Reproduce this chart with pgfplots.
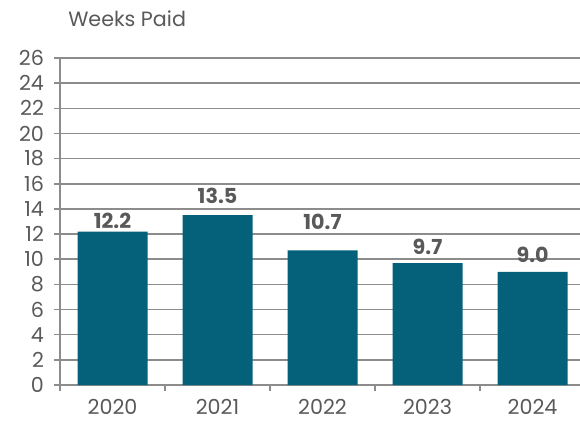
\documentclass[border=0pt]{standalone}
\usepackage{pgfplots}
\usepackage{pgfplotstable}
\pgfplotsset{compat=1.18}
\usepackage{fontspec}
\setmainfont{Poppins}
\definecolor{barc}{HTML}{05617A}
\definecolor{txt}{HTML}{595959}
\definecolor{grd}{HTML}{8C8C8C}
\newcommand{\lf}{\fontsize{15.5}{18}\selectfont}
\pgfplotstableread{
x y lab off
0 12.2 12.2 2.25
1 13.5 13.5 8.25
2 10.7 10.7 15
3 9.7 9.7 6
4 9.0 9.0 6.75
}\datatab
\begin{document}
\begin{tikzpicture}
\begin{axis}[at={(0,0)}, anchor=south west, scale only axis,
  width=390pt, height=245.25pt,
  xmin=-0.5, xmax=4.452, ymin=0, ymax=26,
  ytick={0,2,...,26},
  xtick={0,1,2,3,4}, xticklabels={2020,2021,2022,2023,2024},
  minor xtick={-0.5,0.5,1.5,2.5,3.5},
  axis lines*=left,
  axis line style={grd, line width=1.1pt},
  ymajorgrids, grid style={grd, line width=1.1pt},
  tick align=outside,
  major tick length=4.5pt, minor tick length=4.5pt,
  tick style={grd, line width=1.1pt},
  major x tick style={draw=none},
  ticklabel style={font=\lf, color=txt},
  /pgf/number format/assume math mode=true,
  yticklabel style={xshift=-4pt},
  xticklabel style={yshift=-3pt},
  clip=false,
]
\addplot[ybar, fill=barc, draw=none, bar width=52.5pt,
  nodes near coords, point meta=explicit symbolic,
  visualization depends on={\thisrow{off} \as \myoff},
  nodes near coords style={font=\lf\bfseries, color=txt, anchor=south, inner sep=0pt, yshift=\myoff pt}]
  table[x=x, y=y, meta=lab] {\datatab};
\end{axis}
\node[anchor=base west, font=\lf, color=txt, inner sep=0pt] at (6pt,268.5pt) {Weeks Paid};
\pgfresetboundingbox
\path[use as bounding box] (-45pt,-27pt) rectangle (390pt,288.75pt);
\end{tikzpicture}
\end{document}
